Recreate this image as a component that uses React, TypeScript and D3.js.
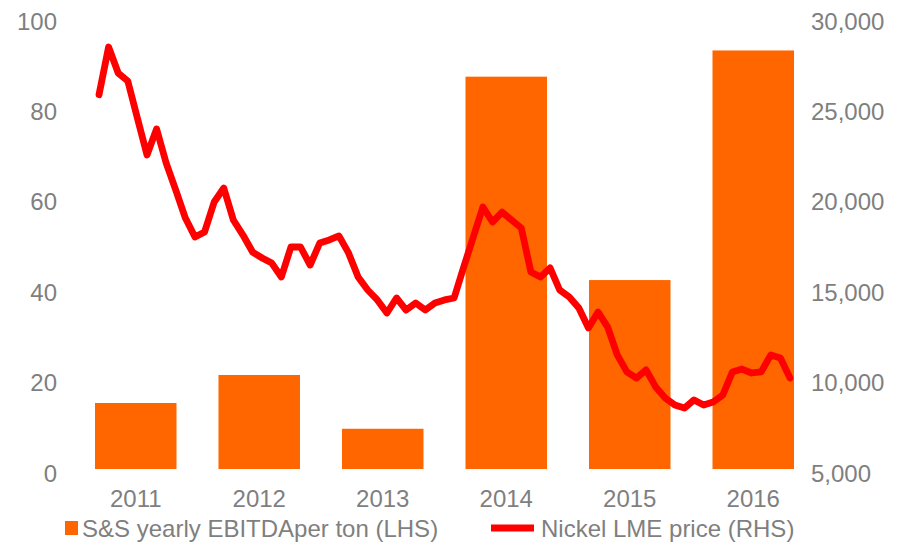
import React from "react";
import * as d3 from "d3";

const years = ["2011", "2012", "2013", "2014", "2015", "2016"];
const ebitda = [14.6, 20.8, 8.9, 86.8, 41.8, 92.6];
const nickel = [
  25700, 28340, 26900, 26460, 24410, 22370, 23810, 21920, 20430, 18880,
  17830, 18110, 19770, 20540, 18770, 17940, 17000, 16670, 16390, 15620,
  17280, 17280, 16280, 17500, 17670, 17890, 16950, 15620, 14900, 14350,
  13630, 14460, 13790, 14180, 13790, 14180, 14350, 14460, 16170, 17830,
  19490, 18660, 19210, 18770, 18330, 15900, 15620, 16120, 14900, 14510,
  13900, 12800, 13680, 12850, 11310, 10370, 10030, 10480, 9540, 8930,
  8540, 8370, 8820, 8540, 8710, 9090, 10370, 10530, 10310, 10370,
  11310, 11140, 10030,
];
const leftTicks = [0, 20, 40, 60, 80, 100];
const rightTicks = [5000, 10000, 15000, 20000, 25000, 30000];
const legendBar = "S&S yearly EBITDAper ton (LHS)";
const legendLine = "Nickel LME price (RHS)";

const W = 901;
const H = 545;
const FONT = "'Liberation Sans', Arial, sans-serif";
const GRAY = "#7f7f7f";
const ORANGE = "#FF6600";
const RED = "#FF0000";

export default function App() {
  const x = d3
    .scaleBand<string>()
    .domain(years)
    .range([74, 815])
    .paddingInner(0.34)
    .paddingOuter(0.17);
  const yL = d3.scaleLinear().domain([0, 100]).range([469, 17]);
  const yR = d3.scaleLinear().domain([5000, 30000]).range([469, 17]);
  const xi = d3.scaleLinear().domain([0, nickel.length - 1]).range([99, 790]);
  const line = d3
    .line<number>()
    .x((_, i) => xi(i))
    .y((d) => yR(d));

  return (
    <svg
      width={W}
      height={H}
      style={{ position: "absolute", left: 0, top: 0, background: "#fff" }}
      fontFamily={FONT}
    >
      <rect x={0} y={0} width={W} height={H} fill="#fff" />
      {years.map((yr, i) => (
        <rect
          key={yr}
          x={x(yr)}
          y={yL(ebitda[i])}
          width={x.bandwidth()}
          height={yL(0) - yL(ebitda[i])}
          fill={ORANGE}
        />
      ))}
      <path
        d={line(nickel) || ""}
        fill="none"
        stroke={RED}
        strokeWidth={6.8}
        strokeLinejoin="round"
        strokeLinecap="round"
      />
      {leftTicks.map((t) => (
        <text
          key={t}
          x={57}
          y={yL(t) + 12.5}
          textAnchor="end"
          fontSize={24}
          fill={GRAY}
        >
          {t}
        </text>
      ))}
      {rightTicks.map((t) => (
        <text
          key={t}
          x={811}
          y={yR(t) + 12.5}
          textAnchor="start"
          fontSize={24}
          fill={GRAY}
        >
          {d3.format(",")(t)}
        </text>
      ))}
      {years.map((yr) => (
        <text
          key={yr}
          x={(x(yr) as number) + x.bandwidth() / 2}
          y={506.5}
          textAnchor="middle"
          fontSize={24}
          fill={GRAY}
        >
          {yr}
        </text>
      ))}
      <rect x={65} y={521} width={13} height={14} fill={ORANGE} />
      <text x={82} y={536.5} fontSize={24} fill={GRAY}>
        {legendBar}
      </text>
      <line x1={491} x2={534} y1={528} y2={528} stroke={RED} strokeWidth={7} />
      <text x={541} y={536.5} fontSize={24} fill={GRAY}>
        {legendLine}
      </text>
    </svg>
  );
}
